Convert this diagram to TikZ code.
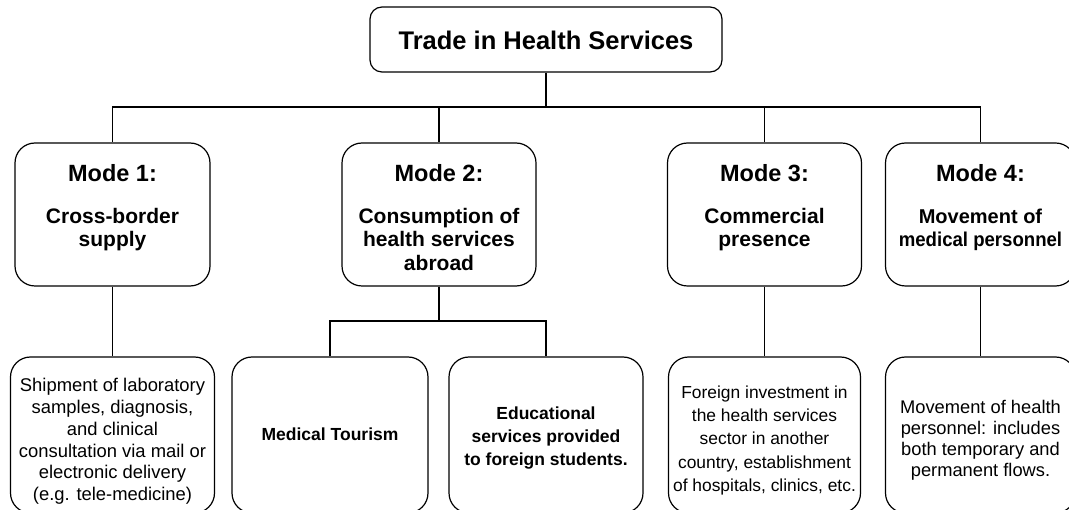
\documentclass[tikz,border=0pt]{standalone}
\usepackage{fontspec}
\setmainfont{Liberation Sans}
\begin{document}
\begin{tikzpicture}[x=1pt,y=-1pt,
  box/.style={draw=black, line width=1.2pt, rounded corners=20pt, inner sep=0pt, fill=white},
  modebox/.style={box, minimum width=195pt, minimum height=143pt},
  leafbox/.style={box, minimum width=194pt, minimum height=156pt},
  link/.style={draw=black, line width=1.2pt},
  toptext/.style={inner sep=0pt, font=\fontsize{25.5}{30}\selectfont\bfseries},
  modehead/.style={inner sep=0pt, font=\fontsize{23.5}{27}\selectfont\bfseries},
  modesub/.style={inner sep=0pt, align=center, font=\fontsize{21}{23.7}\selectfont\bfseries},
  leafbold/.style={inner sep=0pt, align=center, font=\fontsize{17.5}{23.3}\selectfont\bfseries},
  leaftext/.style={inner sep=0pt, align=center, font=\fontsize{18.4}{21.8}\selectfont},
  leafsmall/.style={inner sep=0pt, align=center, font=\fontsize{17.4}{23.3}\selectfont}]
\useasboundingbox (0,0) rectangle (1069,510);
\clip (0,0) rectangle (1069,510);

% root
\node[box, rounded corners=12pt, minimum width=352pt, minimum height=65pt] (top) at (546,39.5) {};
\node[toptext, anchor=base] (toplabel) at (546,50) {Trade in Health Services};

% the four modes
\node[modebox] (m1) at (112.5,214.5) {};
\node[modebox, minimum width=194pt] (m2) at (439,214.5) {};
\node[modebox, minimum width=194pt] (m3) at (764.5,214.5) {};
\node[modebox, minimum width=190pt] (m4) at (980.5,214.5) {};

\node[modehead, anchor=base] (m1h) at (112.5,182) {Mode 1:};
\node[modehead, anchor=base] (m2h) at (439,182) {Mode 2:};
\node[modehead, anchor=base] (m3h) at (764.5,182) {Mode 3:};
\node[modehead, anchor=base] (m4h) at (980.5,182) {Mode 4:};

\node[modesub, anchor=north] (m1s) at (112.5,206.4) {\strut Cross-border\\supply};
\node[modesub, anchor=north] (m2s) at (439,206.4) {\strut Consumption of\\health services\\abroad};
\node[modesub, anchor=north] (m3s) at (764.5,206.4) {\strut Commercial\\presence};
\node[modesub, anchor=north, font=\fontsize{20}{23.7}\selectfont\bfseries] (m4s) at (980.5,206.4)
  {\strut Movement of\\\scalebox{0.93}[1]{medical personnel}};

% examples under each mode
\node[leafbox, minimum width=204pt] (b1) at (112.5,435) {};
\node[leafbox, minimum width=196pt] (b2) at (330,435) {};
\node[leafbox] (b3) at (546,435) {};
\node[leafbox, minimum width=192pt] (b4) at (764.5,435) {};
\node[leafbox, minimum width=190pt] (b5) at (980.5,435) {};

\node[leaftext, anchor=north] (b1t) at (112.5,376.2) {\strut Shipment of laboratory\\samples, diagnosis,\\and clinical\\consultation via mail or\\electronic delivery\\(e.g. tele-medicine)};
\node[leafbold, anchor=base] (b2t) at (330,441) {Medical Tourism};
\node[leafbold, anchor=north] (b3t) at (546,402.7) {\strut Educational\\services provided\\to foreign students.};
\node[leafsmall, anchor=north] (b4t) at (764.5,381.7) {\strut Foreign investment in\\the health services\\sector in another\\country, establishment\\of hospitals, clinics, etc.};
\node[leaftext, anchor=north, font=\fontsize{18.3}{21}\selectfont] (b5t) at (980.5,398.9) {\strut Movement of health\\personnel: includes\\both temporary and\\permanent flows.};

% connectors
\coordinate (bus) at (546,107);
\coordinate (split) at (439,321);
\draw[link] (top.south) -- (bus);
\draw[link] (m1.north) |- (bus) -| (m4.north);
\draw[link] (bus) -| (m2.north);
\draw[link] (bus) -| (m3.north);
\draw[link] (m1.south) -- (b1.north);
\draw[link] (m2.south) -- (split);
\draw[link] (b2.north) |- (split) -| (b3.north);
\draw[link] (m3.south) -- (b4.north);
\draw[link] (m4.south) -- (b5.north);
\end{tikzpicture}
\end{document}
